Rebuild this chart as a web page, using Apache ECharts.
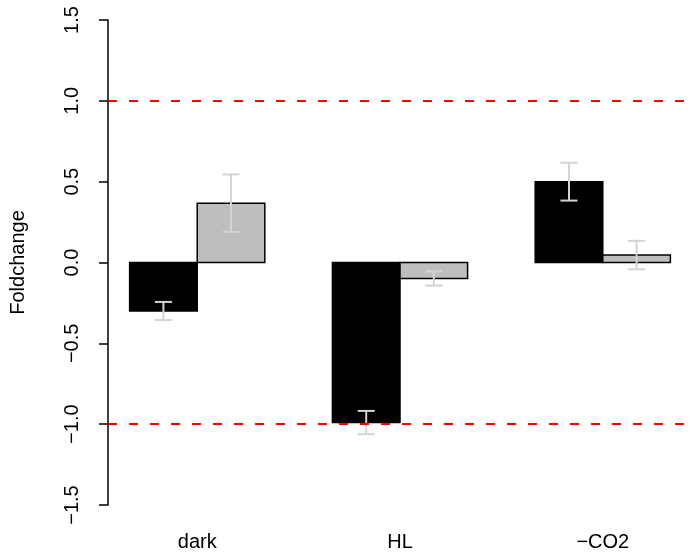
<!DOCTYPE html>
<html>
<head>
<meta charset="utf-8">
<script src="https://cdn.jsdelivr.net/npm/echarts@6/dist/echarts.min.js"></script>
<style>html,body{margin:0;padding:0;background:#fff}#c{width:692px;height:556px}</style>
</head>
<body>
<div id="c"></div>
<script>
var categories = ['dark', 'HL', '\u2212CO2'];
var blackValues = [-0.30, -0.99, 0.50];
var blackErrors = [0.056, 0.072, 0.117];
var grayValues = [0.367, -0.099, 0.046];
var grayErrors = [0.178, 0.044, 0.088];
var yTicks = [-1.5, -1.0, -0.5, 0.0, 0.5, 1.0, 1.5];
var refLines = [1.0, -1.0];

var FONT = 'Liberation Sans, Arial, Helvetica, sans-serif';
var FS = 20;

function barData(vals) { return vals.map(function (v, i) { return [i, v]; }); }
function errData(vals, errs) { return vals.map(function (v, i) { return [i, v, errs[i]]; }); }

function makeBarRender(slot, fill) {
  return function (params, api) {
    var g = api.value(0), v = api.value(1);
    var x0 = 1 + 3 * g + slot;
    var p0 = api.coord([x0, v]);
    var p1 = api.coord([x0 + 1, 0]);
    return {
      type: 'rect',
      shape: { x: p0[0], y: Math.min(p0[1], p1[1]), width: p1[0] - p0[0], height: Math.abs(p1[1] - p0[1]) },
      style: { fill: fill, stroke: '#000', lineWidth: 1.5 }
    };
  };
}
function makeErrRender(slot) {
  return function (params, api) {
    var g = api.value(0), v = api.value(1), e = api.value(2);
    var xc = 1 + 3 * g + slot + 0.5;
    var top = api.coord([xc, v + e]);
    var bot = api.coord([xc, v - e]);
    var cw = 8.5;
    var st = { stroke: '#d3d3d3', lineWidth: 2 };
    return {
      type: 'group',
      children: [
        { type: 'line', shape: { x1: top[0], y1: top[1], x2: bot[0], y2: bot[1] }, style: st },
        { type: 'line', shape: { x1: top[0] - cw, y1: top[1], x2: top[0] + cw, y2: top[1] }, style: st },
        { type: 'line', shape: { x1: bot[0] - cw, y1: bot[1], x2: bot[0] + cw, y2: bot[1] }, style: st }
      ]
    };
  };
}
function fmtNum(v) { return v.toFixed(1).replace('-', '\u2212'); }

var chart = echarts.init(document.getElementById('c'), null, { renderer: 'canvas' });
chart.setOption({
  animation: false,
  backgroundColor: '#fff',
  textStyle: { fontFamily: FONT },
  grid: { left: 106, right: -3, top: 20, bottom: 51, containLabel: false },
  xAxis: {
    type: 'value', min: 0.68, max: 9.32,
    axisLine: { show: false }, axisTick: { show: false }, splitLine: { show: false },
    axisLabel: {
      customValues: [2, 5, 8],
      formatter: function (v) { return categories[Math.round((v - 2) / 3)]; },
      color: '#000', fontSize: FS, fontFamily: FONT, margin: 27
    }
  },
  yAxis: {
    type: 'value', min: -1.5, max: 1.5, interval: 0.5,
    name: 'Foldchange', nameLocation: 'middle', nameGap: 80,
    nameTextStyle: { color: '#000', fontSize: FS, fontFamily: FONT },
    axisLine: { show: true, lineStyle: { color: '#000', width: 1.5 } },
    axisTick: { show: true, length: 9, lineStyle: { color: '#000', width: 1.5 } },
    splitLine: { show: false },
    axisLabel: { rotate: 90, color: '#000', fontSize: FS, fontFamily: FONT, margin: 26, formatter: fmtNum }
  },
  series: [
    {
      type: 'custom', name: 'black', renderItem: makeBarRender(0, '#000'), data: barData(blackValues), z: 2,
      markLine: {
        silent: true, symbol: 'none', label: { show: false },
        lineStyle: { color: '#ff0000', type: [9, 12], width: 2 },
        data: refLines.map(function (r) { return { yAxis: r }; })
      }
    },
    { type: 'custom', name: 'gray', renderItem: makeBarRender(1, '#bebebe'), data: barData(grayValues), z: 2 },
    { type: 'custom', name: 'blackErr', renderItem: makeErrRender(0), data: errData(blackValues, blackErrors), z: 3 },
    { type: 'custom', name: 'grayErr', renderItem: makeErrRender(1), data: errData(grayValues, grayErrors), z: 3 }
  ]
});
</script>
</body>
</html>
